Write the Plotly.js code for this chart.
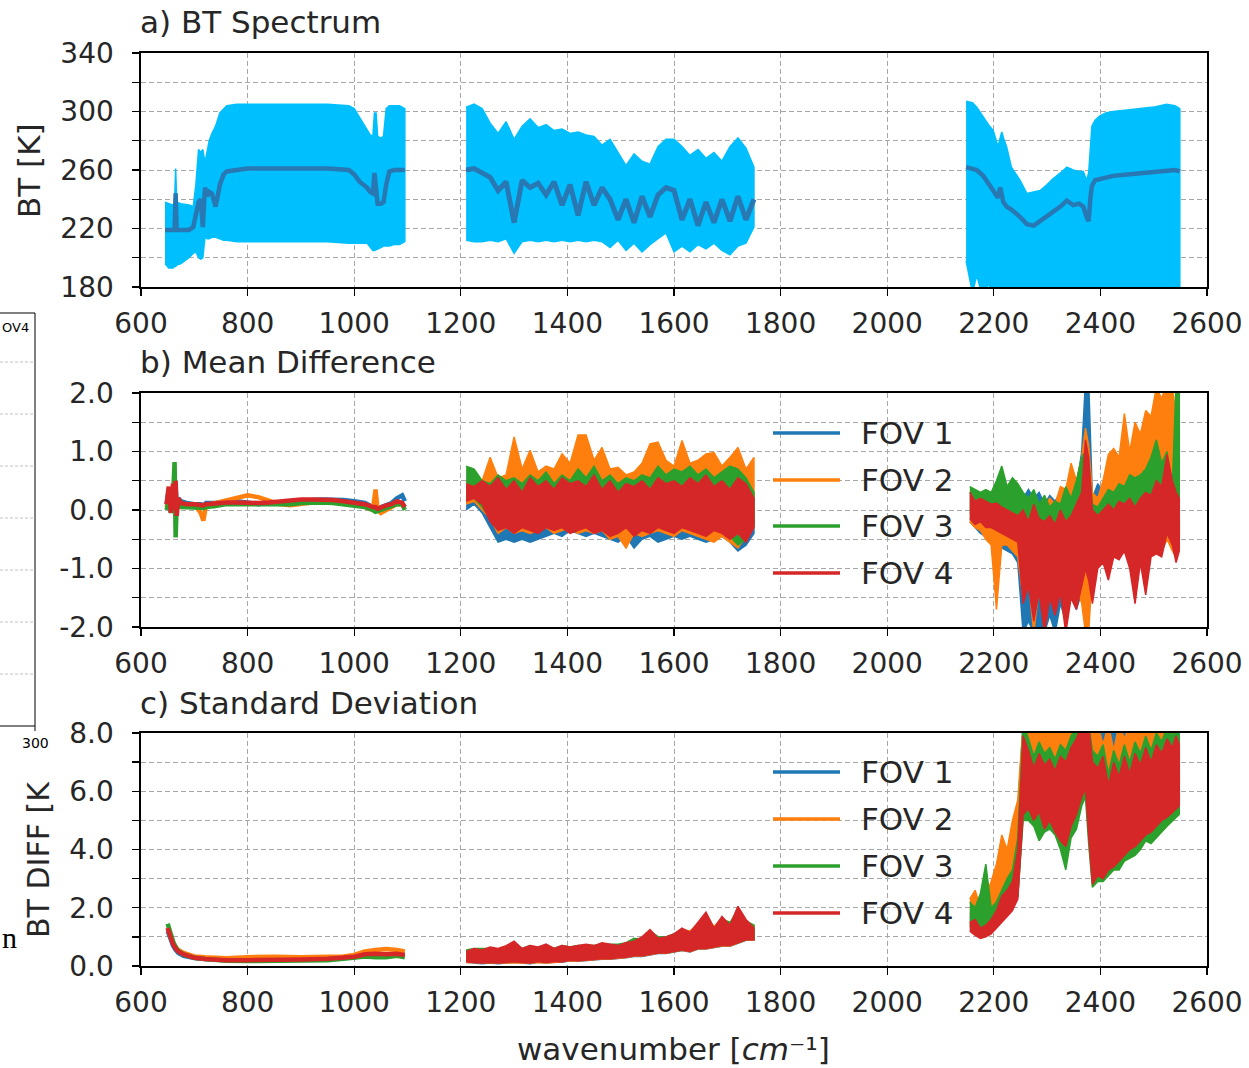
<!DOCTYPE html>
<html><head><meta charset="utf-8">
<script src="https://cdn.plot.ly/plotly-3.0.1.min.js"></script>
<style>html,body{margin:0;padding:0;background:#fff}#chart{width:1249px;height:1068px}</style>
</head><body><div id="chart"></div>
<script>
// ---------- shared ----------
const fovNames = ['FOV 1','FOV 2','FOV 3','FOV 4'];
const fovColors = ['#1f77b4','#ff7f0e','#2ca02c','#d62728'];
const xTickVals = [600,800,1000,1200,1400,1600,1800,2000,2200,2400,2600];
const xTickText = ['600','800','1000','1200','1400','1600','1800','2000','2200','2400','2600'];
const yTickValsA = [180,220,260,300,340];
const yTickTextA = ['180','220','260','300','340'];
const yTickValsB = [-2,-1,0,1,2];
const yTickTextB = ['-2.0','-1.0','0.0','1.0','2.0'];
const yTickValsC = [0,2,4,6,8];
const yTickTextC = ['0.0','2.0','4.0','6.0','8.0'];

const wnBand2 = [1210,1225,1240,1255,1270,1285,1300,1315,1330,1345,1360,1375,1390,1405,1420,1435,1450,1465,1480,1495,1510,1525,1540,1555,1570,1585,1600,1615,1630,1645,1660,1675,1690,1705,1720,1735,1750];
const wnBand3 = [2155,2165,2175,2185,2195,2205,2215,2225,2235,2245,2255,2265,2275,2285,2295,2305,2315,2325,2335,2345,2355,2365,2372,2378,2385,2395,2405,2415,2425,2435,2445,2455,2465,2475,2485,2495,2505,2515,2525,2535,2542,2548];

// ---------- a) BT spectrum ----------
const wnA1 = [645,652,660,663,665,667,675,690,698,703,708,712,716,720,724,728,733,740,748,755,761,780,800,850,900,950,990,1000,1010,1024,1030,1035,1038,1041,1044,1050,1055,1060,1066,1075,1085,1095];
const btA1Upper = [238,237,236,238,261,238,237,236,235,250,274,272,274,265,272,280,285,290,299,302,304,305,305,305,305,305,304,302,296,287,284,283,299,299,283,282,283,302,304,304,304,302];
const btA1Lower = [196,193,193,194,194,195,196,200,203,204,200,199,200,214,213,213,214,214,213,212,212,211,211,211,211,211,210,210,210,210,207,205,205,205,206,207,208,208,208,209,209,211];
const btA1Mean  = [219,219,219,219,244,219,219,219,221,230,238,240,221,248,242,245,244,235,250,257,259,260,261,261,261,261,260,257,252,248,245,244,258,242,237,237,238,250,259,260,260,260];

const btA2Upper = [303,305,302,292,285,293,281,290,295,289,291,287,288,285,286,284,283,277,281,272,263,271,266,264,276,281,281,276,270,274,268,272,266,276,282,275,262];
const btA2Lower = [212,211,211,212,211,213,203,211,212,211,212,211,212,211,212,211,212,211,207,212,205,210,204,209,213,217,204,208,204,209,206,210,205,202,208,210,221];
const btA2Mean  = [260,261,258,255,246,252,224,253,248,251,243,252,236,250,229,252,236,248,240,226,240,224,242,228,243,248,246,226,240,222,238,224,240,225,242,226,240];

const wnA3 = [2148,2160,2168,2180,2190,2199,2205,2208,2212,2215,2218,2224,2233,2249,2262,2275,2287,2300,2311,2325,2337,2349,2360,2368,2374,2378,2381,2384,2390,2399,2410,2424,2450,2474,2500,2524,2540,2549];
const btA3Upper = [307,306,303,296,291,287,280,276,282,286,282,276,262,253,244,245,246,250,254,258,262,260,259,259,253,258,275,290,294,297,299,300,301,302,303,305,304,302];
const btA3Lower = [198,176,188,172,183,170,170,170,170,170,170,170,170,170,170,170,170,170,170,170,170,170,170,170,170,170,170,170,170,170,170,170,170,170,170,170,170,170];
const btA3Mean  = [262,261,260,256,251,246,243,241,248,244,238,235,233,228,223,222,225,228,231,235,239,236,237,235,228,225,240,249,253,254,255,256,257,258,259,260,260,259];

// ---------- b) Mean difference ----------
const wnB1 = [648,652,656,660,663,665,667,670,675,685,700,712,717,722,740,760,780,800,820,840,860,880,900,920,940,960,980,1000,1020,1035,1040,1044,1050,1060,1070,1080,1090,1095];
const mdB1Fov1 = [0.1,0.35,0.2,0.3,0.0,0.4,0.1,0.2,0.15,0.12,0.1,0.1,0.08,0.12,0.12,0.15,0.15,0.12,0.1,0.12,0.13,0.12,0.15,0.17,0.18,0.18,0.17,0.15,0.12,0.05,0.02,0.0,0.05,0.08,0.12,0.2,0.25,0.15];
const mdB1Fov2 = [0.05,0.2,0.1,0.25,-0.05,0.3,0.0,0.15,0.1,0.1,0.1,-0.05,-0.18,0.08,0.12,0.15,0.2,0.25,0.22,0.15,0.1,0.08,0.1,0.12,0.15,0.15,0.13,0.1,0.05,0.0,0.35,0.0,-0.05,0.0,0.05,0.1,0.1,0.05];
const mdB1Fov3 = [0.0,0.15,-0.05,0.2,0.82,-0.47,0.1,0.05,0.05,0.05,0.05,0.04,0.03,0.05,0.07,0.1,0.1,0.1,0.1,0.1,0.1,0.1,0.12,0.13,0.13,0.12,0.1,0.08,0.05,0.0,-0.03,-0.02,0.0,0.02,0.05,0.1,0.1,0.0];
const mdB1Fov4 = [0.1,0.4,-0.05,0.45,0.0,0.5,-0.1,0.2,0.12,0.1,0.1,0.08,0.08,0.1,0.12,0.13,0.13,0.12,0.12,0.13,0.15,0.17,0.18,0.18,0.18,0.17,0.15,0.12,0.1,0.05,0.05,0.02,0.05,0.08,0.1,0.15,0.12,0.05];

const mdB2Fov1Up = [0.45,0.4,0.35,0.3,0.4,0.3,0.35,0.3,0.4,0.3,0.35,0.3,0.4,0.35,0.3,0.35,0.4,0.3,0.35,0.3,0.35,0.3,0.4,0.35,0.3,0.4,0.35,0.3,0.35,0.4,0.3,0.35,0.4,0.3,0.35,0.3,0.2];
const mdB2Fov1Lo = [0.0,0.1,-0.05,-0.3,-0.55,-0.5,-0.55,-0.5,-0.55,-0.5,-0.45,-0.4,-0.45,-0.35,-0.4,-0.45,-0.4,-0.45,-0.5,-0.55,-0.45,-0.65,-0.5,-0.45,-0.55,-0.5,-0.45,-0.5,-0.45,-0.5,-0.55,-0.5,-0.45,-0.55,-0.7,-0.6,-0.4];
const mdB2Fov2Up = [0.5,0.45,0.5,0.9,0.55,0.6,1.25,0.7,1.02,0.65,0.75,0.7,0.96,0.8,1.28,1.28,0.85,1.07,0.7,0.73,0.6,0.65,0.8,1.13,1.16,0.85,0.75,1.19,0.8,0.85,0.96,0.98,0.75,0.9,1.07,0.7,0.9];
const mdB2Fov2Lo = [0.1,0.15,0.0,-0.15,-0.4,-0.3,-0.4,-0.35,-0.4,-0.35,-0.3,-0.4,-0.35,-0.3,-0.4,-0.35,-0.4,-0.35,-0.5,-0.45,-0.65,-0.4,-0.45,-0.4,-0.35,-0.4,-0.45,-0.35,-0.4,-0.45,-0.5,-0.55,-0.45,-0.55,-0.65,-0.45,-0.3];
const mdB2Fov3Up = [0.75,0.7,0.5,0.45,0.6,0.5,0.55,0.45,0.6,0.5,0.65,0.45,0.6,0.5,0.7,0.55,0.75,0.5,0.6,0.45,0.55,0.5,0.6,0.55,0.75,0.6,0.7,0.65,0.75,0.6,0.7,0.55,0.65,0.75,0.7,0.55,0.3];
const mdB2Fov3Lo = [0.2,0.2,0.05,-0.15,-0.3,-0.25,-0.35,-0.25,-0.3,-0.3,-0.25,-0.3,-0.25,-0.3,-0.3,-0.25,-0.35,-0.3,-0.4,-0.35,-0.3,-0.4,-0.3,-0.35,-0.25,-0.3,-0.35,-0.3,-0.3,-0.35,-0.4,-0.3,-0.35,-0.45,-0.6,-0.5,-0.25];
const mdB2Fov4Up = [0.45,0.4,0.5,0.4,0.55,0.35,0.5,0.3,0.55,0.4,0.5,0.35,0.55,0.45,0.5,0.4,0.6,0.35,0.5,0.3,0.45,0.4,0.5,0.35,0.55,0.45,0.5,0.4,0.55,0.45,0.6,0.4,0.5,0.35,0.55,0.45,0.2];
const mdB2Fov4Lo = [0.15,0.2,0.1,-0.2,-0.35,-0.3,-0.4,-0.3,-0.35,-0.4,-0.3,-0.35,-0.3,-0.4,-0.35,-0.3,-0.4,-0.35,-0.45,-0.4,-0.3,-0.45,-0.35,-0.4,-0.3,-0.35,-0.4,-0.3,-0.35,-0.4,-0.45,-0.35,-0.4,-0.5,-0.4,-0.55,-0.3];

const mdB3Fov1Up = [0.25,0.2,0.15,0.1,0.05,0.0,0.0,-0.05,0.0,-0.1,0.2,0.35,0.2,0.3,0.1,0.25,0.15,0.3,0.1,0.3,0.4,1.0,2.2,2.2,0.2,0.45,0.3,0.2,0.35,0.3,0.4,0.3,0.5,0.4,0.6,0.5,0.7,0.6,0.8,0.5,0.4,0.3];
const mdB3Fov1Lo = [-0.2,-0.3,-0.4,-0.45,-0.55,-0.6,-0.65,-0.7,-0.75,-0.9,-2.1,-1.9,-2.1,-2.0,-2.1,-1.8,-2.1,-1.6,-1.9,-1.5,-1.7,-1.4,-1.2,-1.5,-1.0,-0.8,-0.9,-0.9,-0.7,-0.8,-0.7,-0.9,-0.8,-0.9,-1.0,-0.7,-0.6,-0.7,-0.5,-0.6,-0.8,-0.6];
const mdB3Fov2Up = [0.3,0.25,0.2,0.15,0.1,0.05,0.1,0.0,0.05,0.0,0.1,0.0,0.2,0.1,0.05,0.2,0.1,0.4,0.35,0.8,0.5,0.9,1.4,1.1,0.3,0.2,0.5,0.95,1.05,0.9,1.65,1.0,1.5,1.3,1.7,1.6,2.1,1.9,2.2,2.1,1.6,1.4];
const mdB3Fov2Lo = [-0.2,-0.3,-0.35,-0.5,-0.6,-1.7,-0.6,-0.6,-0.7,-0.8,-1.5,-1.2,-2.1,-1.3,-1.9,-1.2,-1.6,-1.3,-1.8,-1.4,-1.3,-1.6,-2.1,-2.1,-1.0,-0.8,-0.9,-0.8,-0.7,-0.8,-0.7,-0.9,-0.8,-0.9,-1.0,-0.7,-0.6,-0.7,-0.5,-0.7,-0.8,-0.6];
const mdB3Fov3Up = [0.4,0.35,0.3,0.35,0.3,0.5,0.75,0.4,0.55,0.45,0.3,0.2,0.35,0.1,0.25,0.05,0.15,0.1,0.4,0.2,0.5,0.9,1.0,0.8,0.1,0.05,0.2,0.35,0.3,0.45,0.4,0.6,0.55,0.6,0.7,0.9,1.2,0.8,1.0,0.4,2.2,2.2];
const mdB3Fov3Lo = [-0.05,-0.1,-0.1,-0.15,-0.2,-0.2,-0.3,-0.3,-0.35,-0.4,-0.9,-1.1,-1.2,-1.0,-1.3,-1.1,-1.2,-1.0,-1.4,-1.0,-1.2,-1.0,-0.8,-0.9,-1.1,-0.6,-0.7,-0.7,-0.6,-0.7,-0.6,-0.8,-0.9,-0.7,-1.0,-0.6,-0.5,-0.6,-0.3,-0.5,-0.6,-0.5];
const mdB3Fov4Up = [0.3,0.15,0.2,0.15,0.1,0.12,0.05,0.0,-0.05,-0.1,0.0,-0.2,0.1,-0.15,-0.2,-0.1,-0.25,0.0,-0.2,-0.1,0.1,0.3,1.2,0.9,0.0,-0.1,0.0,0.1,0.0,0.15,0.1,0.2,0.05,0.2,0.3,0.25,0.5,0.4,0.95,0.5,0.3,0.2];
const mdB3Fov4Lo = [-0.15,-0.25,-0.2,-0.3,-0.3,-0.35,-0.4,-0.45,-0.5,-0.55,-1.6,-1.3,-1.9,-1.4,-2.1,-1.5,-1.8,-1.4,-2.1,-1.5,-1.7,-1.3,-1.0,-1.2,-1.6,-1.0,-0.9,-1.2,-0.8,-0.85,-0.7,-1.0,-1.6,-0.9,-1.45,-0.8,-0.75,-0.8,-0.4,-0.6,-0.9,-0.7];

// ---------- c) Standard deviation ----------
const wnC1 = [650,655,660,665,670,680,690,700,720,740,760,800,850,900,950,980,1000,1020,1040,1060,1080,1095];
const sdC1Fov1 = [1.2,0.9,0.7,0.55,0.45,0.35,0.3,0.27,0.24,0.22,0.2,0.2,0.2,0.22,0.25,0.28,0.3,0.38,0.4,0.38,0.4,0.38];
const sdC1Fov2 = [1.3,1.0,0.8,0.65,0.55,0.45,0.38,0.33,0.3,0.28,0.27,0.3,0.32,0.3,0.3,0.33,0.38,0.5,0.55,0.58,0.55,0.5];
const sdC1Fov3 = [1.45,1.1,0.85,0.65,0.52,0.4,0.33,0.28,0.24,0.2,0.18,0.17,0.17,0.18,0.2,0.25,0.3,0.33,0.3,0.3,0.35,0.3];
const sdC1Fov4 = [1.3,0.95,0.75,0.6,0.5,0.4,0.33,0.28,0.24,0.22,0.2,0.2,0.2,0.22,0.25,0.28,0.32,0.4,0.42,0.4,0.42,0.38];

const sdC2Fov1Up = [0.45,0.5,0.5,0.55,0.55,0.6,0.75,0.55,0.65,0.6,0.65,0.6,0.65,0.6,0.65,0.7,0.65,0.75,0.7,0.7,0.75,0.85,0.95,1.2,1.0,1.0,1.1,1.25,1.15,1.45,1.8,1.3,1.65,1.4,2.0,1.55,1.35];
const sdC2Fov1Lo = [0.13,0.1,0.08,0.1,0.08,0.1,0.13,0.1,0.08,0.13,0.1,0.13,0.13,0.18,0.16,0.18,0.2,0.23,0.23,0.26,0.28,0.33,0.33,0.38,0.43,0.43,0.48,0.53,0.48,0.58,0.58,0.63,0.68,0.68,0.78,0.88,0.88];
const sdC2Fov2Up = [0.45,0.5,0.5,0.55,0.5,0.6,0.7,0.55,0.65,0.6,0.65,0.55,0.65,0.6,0.65,0.7,0.65,0.75,0.7,0.7,0.75,0.85,0.95,1.15,1.0,0.95,1.05,1.25,1.2,1.45,1.75,1.35,1.65,1.45,2.0,1.5,1.4];
const sdC2Fov2Lo = [0.12,0.1,0.1,0.1,0.1,0.1,0.12,0.1,0.1,0.12,0.1,0.12,0.14,0.18,0.17,0.19,0.21,0.24,0.24,0.27,0.29,0.34,0.34,0.39,0.44,0.44,0.49,0.54,0.49,0.59,0.59,0.64,0.69,0.69,0.79,0.89,0.89];
const sdC2Fov3Up = [0.55,0.6,0.6,0.6,0.55,0.65,0.8,0.6,0.7,0.6,0.7,0.6,0.7,0.65,0.7,0.7,0.7,0.75,0.75,0.75,0.8,0.95,0.9,1.2,1.0,1.0,1.1,1.25,1.1,1.4,1.7,1.3,1.6,1.5,1.9,1.55,1.4];
const sdC2Fov3Lo = [0.2,0.2,0.18,0.18,0.15,0.15,0.17,0.15,0.15,0.18,0.17,0.18,0.18,0.2,0.2,0.22,0.25,0.28,0.28,0.3,0.32,0.35,0.38,0.42,0.45,0.48,0.5,0.55,0.55,0.6,0.65,0.7,0.7,0.75,0.8,0.9,0.95];
const sdC2Fov4Up = [0.5,0.6,0.55,0.65,0.6,0.7,0.85,0.6,0.7,0.65,0.75,0.6,0.7,0.65,0.7,0.75,0.7,0.8,0.75,0.7,0.8,0.85,1.0,1.25,0.95,1.0,1.1,1.3,1.15,1.5,1.85,1.3,1.7,1.4,2.05,1.6,1.3];
const sdC2Fov4Lo = [0.15,0.12,0.1,0.12,0.1,0.12,0.15,0.12,0.1,0.15,0.12,0.15,0.15,0.2,0.18,0.2,0.22,0.25,0.25,0.28,0.3,0.35,0.35,0.4,0.45,0.45,0.5,0.55,0.5,0.6,0.6,0.65,0.7,0.7,0.8,0.9,0.9];

const sdC3Fov1Up = [1.8,1.9,1.7,2.0,2.6,3.1,3.8,3.6,4.6,5.4,8.3,8.0,8.3,7.9,8.3,8.1,8.3,8.0,8.3,8.3,8.3,8.3,8.3,8.3,8.0,7.6,8.3,7.9,8.3,8.0,8.3,7.7,8.3,8.3,8.0,8.3,8.3,8.3,8.0,8.3,8.3,8.3];
const sdC3Fov1Lo = [1.25,1.1,1.0,1.05,1.15,1.35,1.55,1.75,1.95,2.4,5.3,5.5,5.1,5.4,4.8,5.1,4.7,4.4,4.2,4.9,5.3,5.9,6.2,4.6,2.9,3.2,3.1,3.4,3.5,3.7,3.9,4.1,4.2,4.4,4.6,4.7,4.9,5.1,5.2,5.4,5.5,5.6];
const sdC3Fov2Up = [2.3,2.6,2.0,2.4,2.9,3.5,4.5,4.0,5.0,5.7,8.3,8.3,8.3,8.3,8.3,8.3,8.3,8.3,8.3,8.3,8.3,8.3,8.3,8.3,8.3,8.3,7.6,8.3,7.4,8.3,7.8,8.3,8.3,8.3,8.3,8.3,8.3,8.3,8.3,8.3,8.3,8.3];
const sdC3Fov2Lo = [1.35,1.2,1.1,1.15,1.25,1.45,1.65,1.85,2.05,2.5,5.4,5.6,5.2,5.5,4.9,5.2,4.8,4.5,4.3,5.0,5.4,6.0,6.3,4.7,3.0,3.3,3.2,3.5,3.6,3.8,4.0,4.2,4.3,4.5,4.7,4.8,5.0,5.2,5.3,5.5,5.6,5.7];
const sdC3Fov3Up = [2.2,2.0,2.5,3.5,2.0,2.2,2.6,3.0,3.3,4.4,8.3,7.8,7.2,7.7,7.3,7.5,7.1,7.6,7.4,7.9,8.2,8.3,8.3,8.3,7.4,7.2,7.6,6.6,7.4,6.9,7.6,7.0,7.7,7.3,7.9,7.4,8.0,7.7,8.2,7.9,8.3,8.0];
const sdC3Fov3Lo = [1.4,1.3,1.2,1.1,1.2,1.4,1.6,1.8,2.0,2.4,5.0,5.0,4.8,4.3,4.6,4.7,4.5,4.0,3.3,4.4,4.7,5.5,5.8,4.2,2.7,2.9,2.9,3.1,3.3,3.3,3.6,3.7,3.8,4.0,4.3,4.2,4.4,4.6,4.8,5.0,5.1,5.2];
const sdC3Fov4Up = [1.5,1.6,1.3,1.4,1.6,1.9,2.4,2.6,2.9,4.0,7.9,7.4,6.8,7.3,6.9,7.1,6.7,7.2,7.0,7.5,7.8,8.3,8.3,8.3,7.0,6.8,7.2,6.2,7.0,6.5,7.2,6.6,7.3,6.9,7.5,7.0,7.6,7.3,7.8,7.5,7.9,7.6];
const sdC3Fov4Lo = [1.2,1.05,0.95,1.0,1.1,1.3,1.5,1.7,1.9,2.3,5.2,5.4,5.0,5.3,4.7,5.0,4.6,4.3,4.1,4.8,5.2,5.8,6.1,4.5,2.8,3.1,3.0,3.3,3.4,3.6,3.8,4.0,4.1,4.3,4.5,4.6,4.8,5.0,5.1,5.3,5.4,5.5];

// ---------- build ----------
const W = 1249, H = 1068;
const px = v => v / W, py = v => 1 - v / H;
const FONT = 'DejaVu Sans';
const TXT = '#262626';

function poly(xs, up, lo, color, xa, ya) {
  return {type:'scatter', mode:'lines', x: xs.concat(xs.slice().reverse()),
    y: up.concat(lo.slice().reverse()), fill:'toself', fillcolor: color,
    line:{color: color, width: 1.5}, xaxis: xa, yaxis: ya, showlegend:false, hoverinfo:'skip'};
}
function line(xs, ys, color, width, xa, ya) {
  return {type:'scatter', mode:'lines', x: xs, y: ys, line:{color: color, width: width},
    xaxis: xa, yaxis: ya, showlegend:false, hoverinfo:'skip'};
}

const traces = [];
const sky = '#00bfff', meanBlue = '#2878b4';
traces.push(poly(wnA1, btA1Upper, btA1Lower, sky, 'x', 'y'));
traces.push(poly(wnBand2, btA2Upper, btA2Lower, sky, 'x', 'y'));
traces.push(poly(wnA3, btA3Upper, btA3Lower, sky, 'x', 'y'));
traces.push(line(wnA1, btA1Mean, meanBlue, 4.5, 'x', 'y'));
traces.push(line(wnBand2, btA2Mean, meanBlue, 5, 'x', 'y'));
traces.push(line(wnA3, btA3Mean, meanBlue, 4.5, 'x', 'y'));

const mdB1 = [mdB1Fov1, mdB1Fov2, mdB1Fov3, mdB1Fov4];
const mdB2Up = [mdB2Fov1Up, mdB2Fov2Up, mdB2Fov3Up, mdB2Fov4Up];
const mdB2Lo = [mdB2Fov1Lo, mdB2Fov2Lo, mdB2Fov3Lo, mdB2Fov4Lo];
const mdB3Up = [mdB3Fov1Up, mdB3Fov2Up, mdB3Fov3Up, mdB3Fov4Up];
const mdB3Lo = [mdB3Fov1Lo, mdB3Fov2Lo, mdB3Fov3Lo, mdB3Fov4Lo];
const sdC1 = [sdC1Fov1, sdC1Fov2, sdC1Fov3, sdC1Fov4];
const sdC2Up = [sdC2Fov1Up, sdC2Fov2Up, sdC2Fov3Up, sdC2Fov4Up];
const sdC2Lo = [sdC2Fov1Lo, sdC2Fov2Lo, sdC2Fov3Lo, sdC2Fov4Lo];
const sdC3Up = [sdC3Fov1Up, sdC3Fov2Up, sdC3Fov3Up, sdC3Fov4Up];
const sdC3Lo = [sdC3Fov1Lo, sdC3Fov2Lo, sdC3Fov3Lo, sdC3Fov4Lo];

for (let i = 0; i < 4; i++) {
  const c = fovColors[i];
  traces.push(line(wnB1, mdB1[i], c, 4.5, 'x2', 'y2'));
  traces.push(poly(wnBand2, mdB2Up[i], mdB2Lo[i], c, 'x2', 'y2'));
  traces.push(poly(wnBand3, mdB3Up[i], mdB3Lo[i], c, 'x2', 'y2'));
  traces.push(line(wnC1, sdC1[i], c, 4.5, 'x3', 'y3'));
  traces.push(poly(wnBand2, sdC2Up[i], sdC2Lo[i], c, 'x3', 'y3'));
  traces.push(poly(wnBand3, sdC3Up[i], sdC3Lo[i], c, 'x3', 'y3'));
}

const GRID = {showgrid:true, gridcolor:'#a8a8a8', gridwidth:1, griddash:'5px,3px'};
const axBase = Object.assign({
  showline:true, linecolor:'#000', linewidth:1.6, mirror:true,
  ticks:'outside', ticklen:7, tickwidth:1.4, tickcolor:'#000',
  zeroline:false, fixedrange:true,
  tickfont:{family:FONT, size:28, color:TXT}
}, GRID);
const xDomain = [px(141), px(1207)];
function xa(anchor) {
  return Object.assign({}, axBase, {domain:xDomain, anchor:anchor, range:[600,2600],
    tickmode:'array', tickvals:xTickVals, ticktext:xTickText, ticklabelstandoff:4});
}
function ya(anchor, dom, rng, tv, tt, t0, dt) {
  return Object.assign({}, axBase, {domain:dom, anchor:anchor, range:rng,
    tickmode:'array', tickvals:tv, ticktext:tt, ticklabelstandoff:13,
    minor: Object.assign({tickmode:'linear', tick0:t0, dtick:dt, ticks:'outside', ticklen:7, tickwidth:1.4, tickcolor:'#000'}, GRID)});
}

const shapes = [];
const annotations = [];
function ann(text, x, y, opts) {
  annotations.push(Object.assign({text:text, xref:'paper', yref:'paper', x:px(x), y:py(y),
    showarrow:false, xanchor:'left', yanchor:'middle',
    font:{family:FONT, size:31, color:TXT}}, opts || {}));
}
ann('a) BT Spectrum', 138, 22);
ann('b) Mean Difference', 138, 362);
ann('c) Standard Deviation', 138, 703);
ann('BT [K]', 29, 171, {xanchor:'center', textangle:-90});
ann('BT DIFF [K', 38, 860, {xanchor:'center', textangle:-90, font:{family:FONT, size:30, color:TXT}});
ann('wavenumber [<i>cm</i>⁻¹]', 673, 1049, {xanchor:'center'});

// legends (panels b and c)
const legRowsB = [433, 480, 526, 573];
const legRowsC = [772, 819, 866, 913];
[legRowsB, legRowsC].forEach(rows => {
  rows.forEach((yy, i) => {
    shapes.push({type:'line', xref:'paper', yref:'paper', x0:px(773), x1:px(840), y0:py(yy), y1:py(yy),
      line:{color:fovColors[i], width:3.5}, layer:'above'});
    ann(fovNames[i], 859, yy);
  });
});

// fragment of a neighbouring figure at the left edge
const frag = {xref:'paper', yref:'paper', layer:'above'};
shapes.push(Object.assign({type:'line', x0:px(0), x1:px(35), y0:py(313), y1:py(313), line:{color:'#000', width:1}}, frag));
shapes.push(Object.assign({type:'line', x0:px(35), x1:px(35), y0:py(313), y1:py(731), line:{color:'#000', width:1}}, frag));
shapes.push(Object.assign({type:'line', x0:px(0), x1:px(35), y0:py(726), y1:py(726), line:{color:'#000', width:1}}, frag));
[362, 414, 466, 518, 570, 622, 674].forEach(yy => {
  shapes.push(Object.assign({type:'line', x0:px(0), x1:px(33), y0:py(yy), y1:py(yy), line:{color:'#b0b0b0', width:0.8, dash:'3px,2px'}}, frag));
});
ann('OV4', 0, 328, {font:{family:FONT, size:13, color:'#000'}});
ann('300', 35, 743, {xanchor:'center', font:{family:FONT, size:14, color:'#000'}});
ann('n', 0, 937, {font:{family:'Liberation Serif', size:30, color:'#000'}});

const layout = {
  width:W, height:H, margin:{l:0, r:0, t:0, b:0},
  paper_bgcolor:'#fff', plot_bgcolor:'#fff', showlegend:false,
  font:{family:FONT, color:TXT},
  xaxis: xa('y'), xaxis2: xa('y2'), xaxis3: xa('y3'),
  yaxis: ya('x', [py(287), py(53)], [180,340], yTickValsA, yTickTextA, 180, 20),
  yaxis2: ya('x2', [py(627), py(393)], [-2,2], yTickValsB, yTickTextB, -2, 0.5),
  yaxis3: ya('x3', [py(966), py(733)], [0,8], yTickValsC, yTickTextC, 0, 1),
  shapes: shapes, annotations: annotations
};
Plotly.newPlot('chart', traces, layout, {displayModeBar:false, staticPlot:true});
</script>
</body></html>
